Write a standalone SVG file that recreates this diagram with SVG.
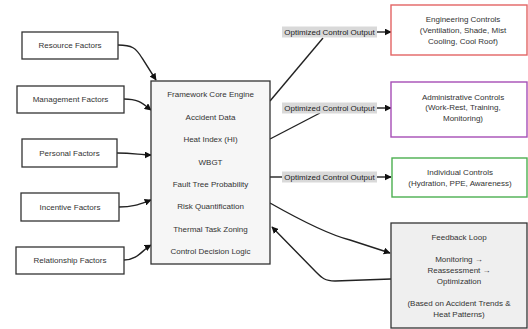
<svg xmlns="http://www.w3.org/2000/svg" width="528" height="329" viewBox="0 0 528 329">
<defs>
<style>
.box{fill:#fff;stroke:#333;stroke-width:1.3}
.t{font-family:"Liberation Sans",Arial,sans-serif;font-size:8px;fill:#333;text-anchor:middle;dominant-baseline:central}
.e{fill:none;stroke:#222;stroke-width:1.4}
.lbl{fill:#d9d9d9}
.lt{font-family:"Liberation Sans",Arial,sans-serif;font-size:8px;fill:#222;text-anchor:middle;dominant-baseline:central}
</style>
<marker id="ah" viewBox="0 0 10 10" refX="9" refY="5" markerWidth="7" markerHeight="7" orient="auto" markerUnits="userSpaceOnUse">
<path d="M0,0 L10,5 L0,10 z" fill="#111"/>
</marker>
</defs>
<rect width="528" height="329" fill="#fff"/>

<g id="connectors">
<path class="e" d="M118,45 C132,45 136,48 142,58 L156,80" marker-end="url(#ah)"/>
<path class="e" d="M124,99 C138,99 142,103 151,110" marker-end="url(#ah)"/>
<path class="e" d="M117,153 C134,153 140,155 151,155" marker-end="url(#ah)"/>
<path class="e" d="M119,207 C134,207 140,204 151,200" marker-end="url(#ah)"/>
<path class="e" d="M124,260 C138,260 142,250 151,245" marker-end="url(#ah)"/>
<path class="e" d="M270,101 L323,38"/>
<path class="e" d="M377,32 L391,32" marker-end="url(#ah)"/>
<path class="e" d="M270,139 L320,113"/>
<path class="e" d="M377,108 L391,108" marker-end="url(#ah)"/>
<path class="e" d="M270,177 L282,177"/>
<path class="e" d="M377,177 L391,177" marker-end="url(#ah)"/>
<path class="e" d="M270,203 C300,220 330,235 350,240 L390,253" marker-end="url(#ah)"/>
<path class="e" d="M391,279 L335,281 C325,281 322,278 316,272 L272,227" marker-end="url(#ah)"/>
</g>

<g id="resource"><rect class="box" x="22" y="32" width="96" height="27"/><text class="t" x="70" y="45.5">Resource Factors</text></g>
<g id="management"><rect class="box" x="17" y="86" width="107" height="27"/><text class="t" x="70.5" y="99.5">Management Factors</text></g>
<g id="personal"><rect class="box" x="22" y="139" width="95" height="28"/><text class="t" x="69.5" y="153">Personal Factors</text></g>
<g id="incentive"><rect class="box" x="21" y="193" width="98" height="28"/><text class="t" x="70" y="207">Incentive Factors</text></g>
<g id="relationship"><rect class="box" x="16" y="247" width="108" height="27"/><text class="t" x="70" y="260.5">Relationship Factors</text></g>

<g id="core">
<rect x="151" y="81" width="119" height="183" fill="#f6f6f6" stroke="#333" stroke-width="1.3"/>
<text class="t" x="210.5" y="94">Framework Core Engine</text>
<text class="t" x="210.5" y="117">Accident Data</text>
<text class="t" x="210.5" y="139">Heat Index (HI)</text>
<text class="t" x="210.5" y="162">WBGT</text>
<text class="t" x="210.5" y="184">Fault Tree Probability</text>
<text class="t" x="210.5" y="206">Risk Quantification</text>
<text class="t" x="210.5" y="229">Thermal Task Zoning</text>
<text class="t" x="210.5" y="251">Control Decision Logic</text>
</g>

<g id="label1"><rect class="lbl" x="282" y="26.5" width="95" height="11"/><text class="lt" x="329.5" y="32">Optimized Control Output</text></g>
<g id="label2"><rect class="lbl" x="282" y="102.5" width="95" height="11"/><text class="lt" x="329.5" y="108">Optimized Control Output</text></g>
<g id="label3"><rect class="lbl" x="282" y="171.5" width="95" height="11"/><text class="lt" x="329.5" y="177">Optimized Control Output</text></g>

<g id="engineering">
<rect x="391" y="5" width="136" height="50" fill="#fff" stroke="#e36464" stroke-width="1.4"/>
<text class="t" x="463" y="19">Engineering Controls</text>
<text class="t" x="463" y="30">(Ventilation, Shade, Mist</text>
<text class="t" x="463" y="41">Cooling, Cool Roof)</text>
</g>
<g id="administrative">
<rect x="391" y="82" width="136" height="55" fill="#fff" stroke="#a64db6" stroke-width="1.4"/>
<text class="t" x="463" y="97">Administrative Controls</text>
<text class="t" x="463" y="107.5">(Work-Rest, Training,</text>
<text class="t" x="463" y="118">Monitoring)</text>
</g>
<g id="individual">
<rect x="392" y="158" width="135" height="39" fill="#fff" stroke="#4caf50" stroke-width="1.4"/>
<text class="t" x="460" y="172">Individual Controls</text>
<text class="t" x="460" y="183">(Hydration, PPE, Awareness)</text>
</g>
<g id="feedback">
<rect x="391" y="223" width="136" height="105" fill="#efefef" stroke="#333" stroke-width="1.3"/>
<text class="t" x="459" y="237">Feedback Loop</text>
<text class="t" x="459" y="259">Monitoring →</text>
<text class="t" x="459" y="270">Reassessment →</text>
<text class="t" x="459" y="281">Optimization</text>
<text class="t" x="459" y="303">(Based on Accident Trends &amp;</text>
<text class="t" x="459" y="314">Heat Patterns)</text>
</g>
</svg>
